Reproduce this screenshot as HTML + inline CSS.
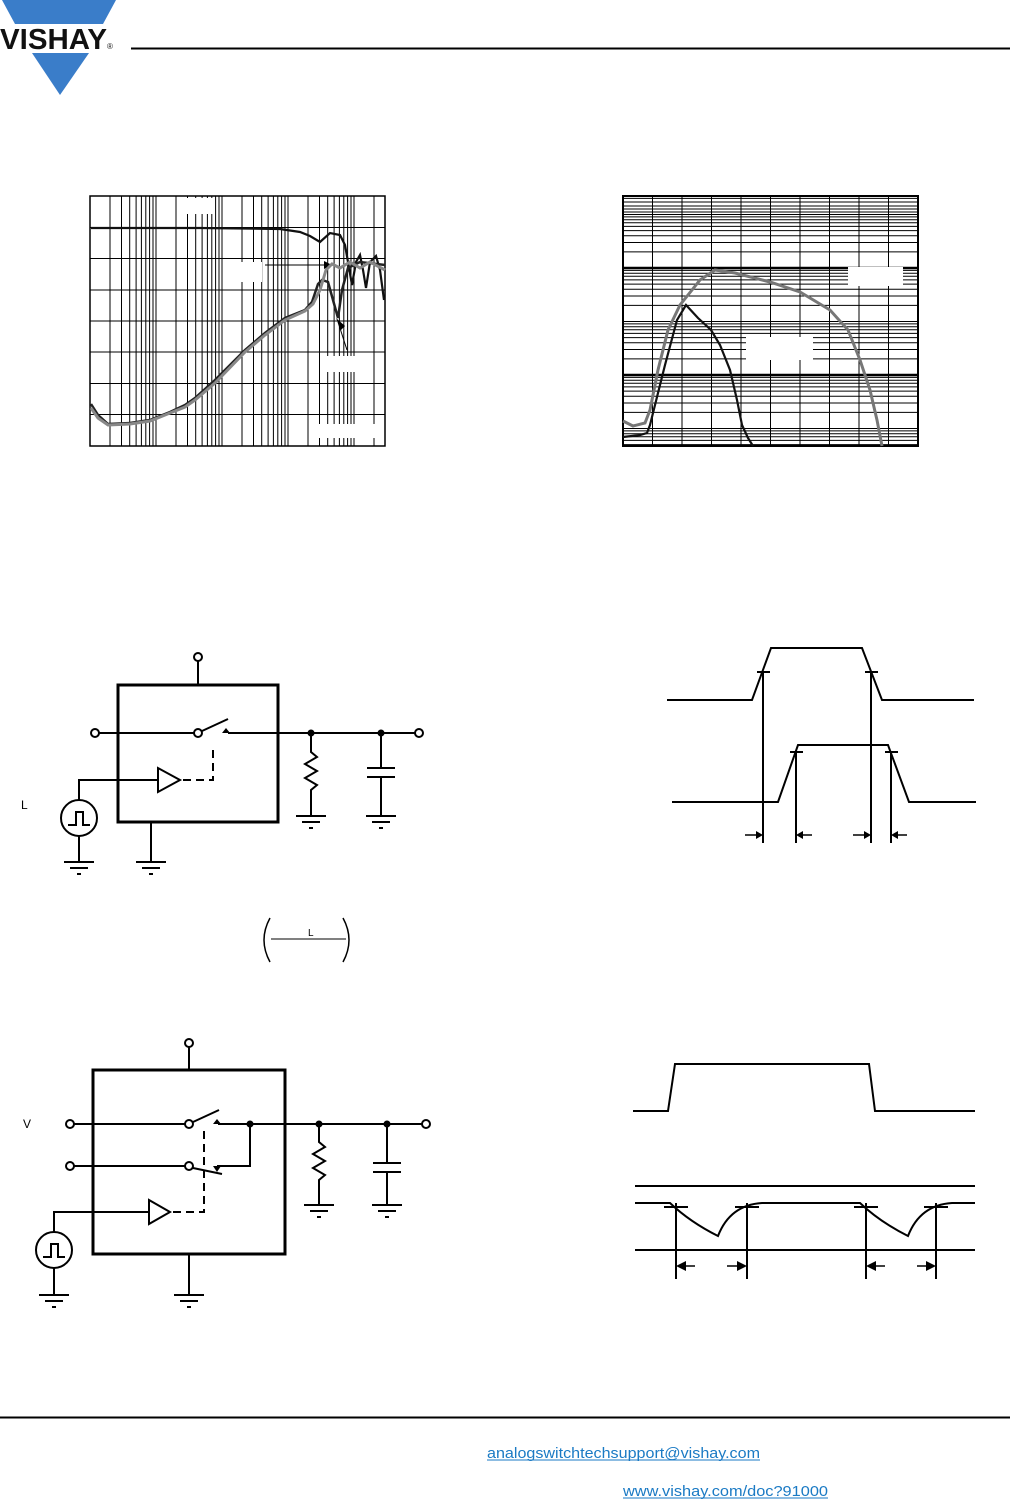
<!DOCTYPE html>
<html><head><meta charset="utf-8"><style>
html,body{margin:0;padding:0;background:#fff;}
svg{display:block;}
text{font-family:"Liberation Sans",Arial,sans-serif;}
</style></head><body>
<svg width="1010" height="1500" viewBox="0 0 1010 1500" xmlns="http://www.w3.org/2000/svg">
<!-- Logo -->
<polygon points="2,0 116,0 103,24 15,24" fill="#3a7dc9"/>
<polygon points="32,53 89,53 60,95" fill="#3a7dc9"/>
<text x="0" y="49" font-size="29" font-weight="bold" fill="#111" textLength="107" lengthAdjust="spacingAndGlyphs">VISHAY</text>
<text x="107" y="49" font-size="8" fill="#111">®</text>
<line x1="131" y1="48.5" x2="1010" y2="48.5" stroke="#000" stroke-width="2"/>

<!-- Left chart -->
<g fill="none" stroke="#000">
<rect x="90" y="196" width="295" height="250" stroke-width="1.5"/>
<path stroke-width="1" d="M90 227.5H385M90 258.5H385M90 290H385M90 321H385M90 352H385M90 383.5H385M90 414.5H385
M110 196V446M121.5 196V446M129.7 196V446M136.1 196V446M141.4 196V446M145.8 196V446M149.6 196V446M153 196V446M156 196V446
M176 196V446M187.5 196V446M195.7 196V446M202.1 196V446M207.4 196V446M211.8 196V446M215.6 196V446M219 196V446M222 196V446
M242 196V446M253.5 196V446M261.7 196V446M268.1 196V446M273.4 196V446M277.8 196V446M281.6 196V446M285 196V446M288 196V446
M308 196V446M319.5 196V446M327.7 196V446M334.1 196V446M339.4 196V446M343.8 196V446M347.6 196V446M351 196V446M354 196V446M374 196V446"/>
</g>
<rect x="180" y="198" width="34" height="16" fill="#fff"/>
<rect x="240" y="262" width="22" height="20" fill="#fff"/>
<rect x="326" y="356" width="30" height="16" fill="#fff"/>
<rect x="310" y="424" width="66" height="14" fill="#fff"/>
<line x1="265" y1="265" x2="330" y2="265" stroke="#000" stroke-width="1"/>
<polygon points="324,261 332,265 324,269" fill="#000"/>
<line x1="338" y1="322" x2="347" y2="350" stroke="#000" stroke-width="1"/>
<polygon points="336,318 341,330 345,326" fill="#000"/>
<path fill="none" stroke="#111" stroke-width="2.2" d="M91 228L200 228L280 229L300 232L310 236L320 242L330 233L340 235L345 245L348 262L352 285L356 262L360 255L363 270L366 288L370 262L376 256L380 270L384 300"/>
<path fill="none" stroke="#222" stroke-width="2.5" d="M91 404L98 415L108 424L130 423L150 420L170 412L185 405L195 398L215 380L245 350L265 333L285 318L305 310L312 302L318 284L322 280L328 282L333 300L338 318L342 290L348 268L360 262L385 265"/>
<path fill="none" stroke="#888" stroke-width="3" d="M91 408L98 418L108 425L130 424L150 421L170 413L185 407L195 400L215 383L245 352L265 335L285 320L305 311L313 304L320 290L326 270L332 264L340 268L350 262L360 268L370 262L385 270"/>

<!-- Right chart -->
<g fill="none" stroke="#000">
<path stroke-width="1" d="M652.5 196V446M682 196V446M711.5 196V446M741 196V446M770.5 196V446M800 196V446M829.5 196V446M859 196V446M888.5 196V446
M623 198.4H918M623 251.9H918M623 242.5H918M623 235.8H918M623 230.6H918M623 226.4H918M623 222.8H918M623 219.7H918M623 216.9H918M623 214.5H918
M623 305.4H918M623 296H918M623 289.3H918M623 284.1H918M623 279.9H918M623 276.3H918M623 273.2H918M623 270.4H918
M623 358.9H918M623 349.5H918M623 342.8H918M623 337.6H918M623 333.4H918M623 329.8H918M623 326.7H918M623 323.9H918M623 321.5H918
M623 412.4H918M623 403H918M623 396.3H918M623 391.1H918M623 386.9H918M623 383.3H918M623 380.2H918M623 377.4H918
M623 444.6H918M623 440.4H918M623 436.8H918M623 433.7H918M623 430.9H918M623 428.5H918
M623 202H918M623 206H918M623 209H918M623 212H918"/>
<path stroke-width="2.5" d="M623 268H918M623 375H918"/>
<rect x="623" y="196" width="295" height="250" stroke-width="2"/>
</g>
<rect x="848" y="267" width="55" height="19" fill="#fff"/>
<rect x="746" y="337" width="67" height="23" fill="#fff"/>
<path fill="none" stroke="#111" stroke-width="2.2" d="M623 437L640 435L647 433L650 425L655 405L665 365L677 320L686 305L698 318L711 330L720 345L730 370L737 400L742 425L748 438L753 446"/>
<path fill="none" stroke="#777" stroke-width="3" d="M623 421L633 426L645 423L650 410L658 370L668 330L680 305L700 280L715 270L735 273L770 282L800 292L830 310L848 330L860 360L870 390L877 420L882 446"/>

<!-- Circuit 1 -->
<g fill="none" stroke="#000" stroke-width="2">
<rect x="118" y="685" width="160" height="137" stroke-width="3"/>
<line x1="198" y1="661" x2="198" y2="685"/>
<circle cx="198" cy="657" r="4" fill="#fff"/>
<line x1="99" y1="733" x2="194" y2="733"/>
<circle cx="95" cy="733" r="4" fill="#fff"/>
<circle cx="198" cy="733" r="4" fill="#fff"/>
<line x1="202" y1="731" x2="228" y2="719"/>
<line x1="228" y1="733" x2="415" y2="733"/>
<circle cx="419" cy="733" r="4" fill="#fff"/>
<path d="M311 733V752L317 757L305 764L317 771L305 778L317 785L311 790V816"/>
<path d="M296 816H326M302 822H320M309 828H313"/>
<path d="M381 733V768M367 768H395M367 777H395M381 777V816"/>
<path d="M366 816H396M372 822H390M379 828H383"/>
<polygon points="158,768 158,792 180,780"/>
<path d="M183 780H213V745" stroke-dasharray="8,5"/>
<path d="M79 800V780H158"/>
<circle cx="79" cy="818" r="18"/>
<path d="M68 825H76V812H83V825H90"/>
<path d="M79 836V862M64 862H94M70 868H88M77 874H81"/>
<path d="M151 822V862M136 862H166M142 868H160M149 874H153"/>
</g>
<polygon points="226,728 222,733 230,733" fill="#000"/>
<circle cx="311" cy="733" r="3.5" fill="#000"/>
<circle cx="381" cy="733" r="3.5" fill="#000"/>
<text x="21" y="809" font-size="12">L</text>

<!-- Equation -->
<g fill="none" stroke="#000" stroke-width="1.5">
<path d="M270 918Q258 940 270 962"/>
<path d="M343 918Q355 940 343 962"/>
<line x1="271" y1="939" x2="346" y2="939" stroke-width="1"/>
</g>
<text x="308" y="936" font-size="10">L</text>

<!-- Circuit 2 -->
<g fill="none" stroke="#000" stroke-width="2">
<rect x="93" y="1070" width="192" height="184" stroke-width="3"/>
<line x1="189" y1="1047" x2="189" y2="1070"/>
<circle cx="189" cy="1043" r="4" fill="#fff"/>
<line x1="74" y1="1124" x2="185" y2="1124"/>
<circle cx="70" cy="1124" r="4" fill="#fff"/>
<circle cx="189" cy="1124" r="4" fill="#fff"/>
<line x1="193" y1="1122" x2="219" y2="1110"/>
<line x1="218" y1="1124" x2="422" y2="1124"/>
<circle cx="426" cy="1124" r="4" fill="#fff"/>
<line x1="74" y1="1166" x2="185" y2="1166"/>
<circle cx="70" cy="1166" r="4" fill="#fff"/>
<circle cx="189" cy="1166" r="4" fill="#fff"/>
<line x1="193" y1="1168" x2="222" y2="1174"/>
<path d="M217 1166H250V1124"/>
<path d="M319 1124V1142L325 1147L313 1154L325 1161L313 1168L325 1175L319 1180V1205"/>
<path d="M304 1205H334M310 1211H328M317 1217H321"/>
<path d="M387 1124V1163M373 1163H401M373 1172H401M387 1172V1205"/>
<path d="M372 1205H402M378 1211H396M385 1217H389"/>
<polygon points="149,1200 149,1224 170,1212"/>
<path d="M173 1212H204V1130" stroke-dasharray="8,5"/>
<path d="M54 1232V1212H149"/>
<circle cx="54" cy="1250" r="18"/>
<path d="M43 1257H51V1244H58V1257H65"/>
<path d="M54 1268V1295M39 1295H69M45 1301H63M52 1307H56"/>
<path d="M189 1254V1295M174 1295H204M180 1301H198M187 1307H191"/>
</g>
<polygon points="217,1119 213,1124 221,1124" fill="#000"/>
<polygon points="213,1166 221,1166 217,1172" fill="#000"/>
<circle cx="250" cy="1124" r="3.5" fill="#000"/>
<circle cx="319" cy="1124" r="3.5" fill="#000"/>
<circle cx="387" cy="1124" r="3.5" fill="#000"/>
<text x="23" y="1128" font-size="12">V</text>

<!-- Timing 1 -->
<g fill="none" stroke="#000" stroke-width="2">
<path d="M667 700H752L771 648H862L882 700H974"/>
<path d="M672 802H778L798 745H888L909 802H976"/>
<path d="M757 672H770M865 672H878M790 752H803M885 752H898"/>
<path d="M763 672V843M796 752V843M871 672V843M891 752V843"/>
<path d="M745 835H758M812 835H800M853 835H866M907 835H895" stroke-width="1.5"/>
</g>
<g fill="#000">
<polygon points="763,835 756,831 756,839"/>
<polygon points="796,835 803,831 803,839"/>
<polygon points="871,835 864,831 864,839"/>
<polygon points="891,835 898,831 898,839"/>
</g>

<!-- Timing 2 -->
<g fill="none" stroke="#000" stroke-width="2">
<path d="M633 1111H668L675 1064H869L875 1111H975"/>
<path d="M635 1186H975M635 1250H975"/>
<path d="M635 1203H670Q690 1222 718 1236Q730 1205 762 1203H860Q880 1222 908 1236Q920 1205 952 1203H975"/>
<path d="M664 1207H688M735 1207H759M854 1207H878M924 1207H948"/>
<path d="M676 1203V1279M747 1203V1279M866 1203V1279M936 1203V1279"/>
<path d="M684 1266H695M739 1266H727M874 1266H885M928 1266H917" stroke-width="1.5"/>
</g>
<g fill="#000">
<polygon points="676,1266 686,1261 686,1271"/>
<polygon points="747,1266 737,1261 737,1271"/>
<polygon points="866,1266 876,1261 876,1271"/>
<polygon points="936,1266 926,1261 926,1271"/>
</g>

<!-- Footer -->
<line x1="0" y1="1417.5" x2="1010" y2="1417.5" stroke="#000" stroke-width="2"/>
<text x="487" y="1458" font-size="15" fill="#1a7ac4" textLength="273" lengthAdjust="spacingAndGlyphs">analogswitchtechsupport@vishay.com</text>
<line x1="487" y1="1460" x2="760" y2="1460" stroke="#1a7ac4" stroke-width="1"/>
<text x="623" y="1496" font-size="15" fill="#1a7ac4" textLength="205" lengthAdjust="spacingAndGlyphs">www.vishay.com/doc?91000</text>
<line x1="623" y1="1498" x2="828" y2="1498" stroke="#1a7ac4" stroke-width="1"/>
</svg>
</body></html>
